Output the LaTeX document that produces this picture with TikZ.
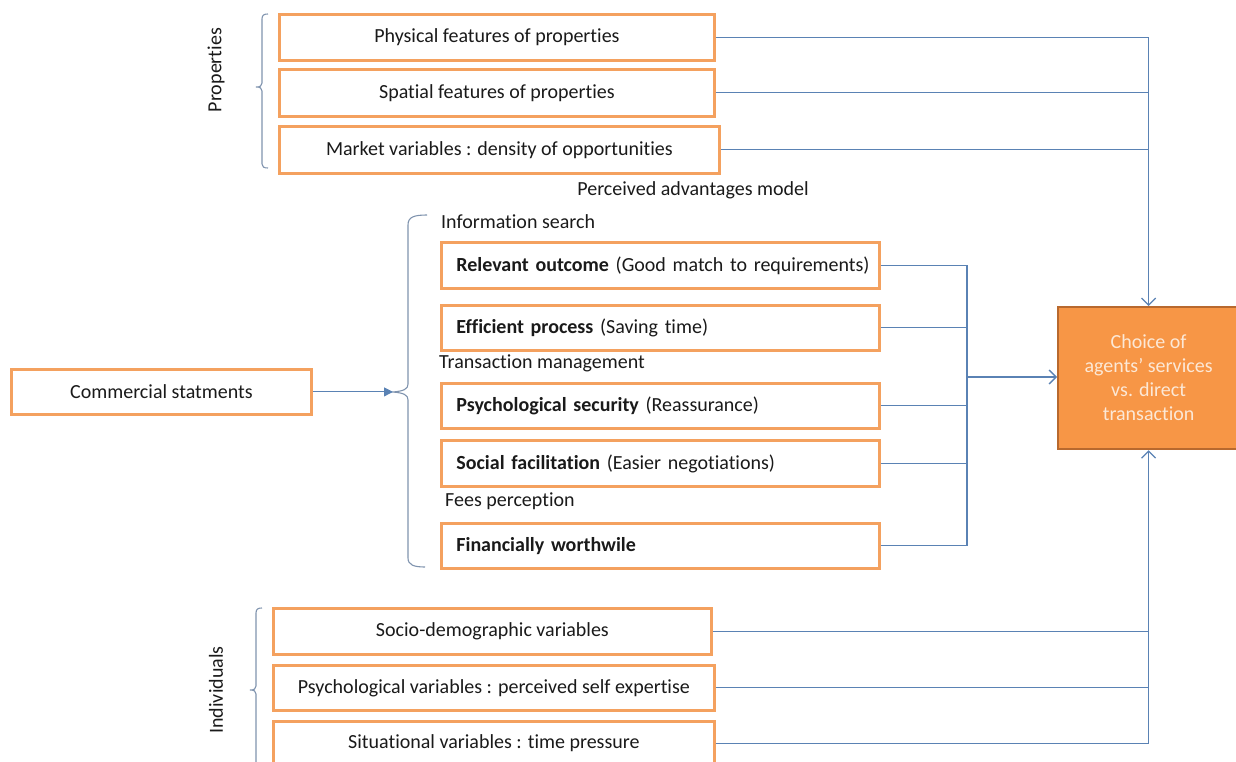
\documentclass[tikz,border=0pt]{standalone}
\usepackage{fontspec}
\setmainfont{Carlito}[Ligatures=NoCommon]
\usetikzlibrary{arrows.meta}
\definecolor{boxor}{HTML}{F4A15F}
\definecolor{choicefill}{HTML}{F79646}
\definecolor{choiceedge}{HTML}{B8692E}
\definecolor{choicetext}{HTML}{FCE8D6}
\definecolor{lineblue}{HTML}{5A82B4}
\definecolor{bracegray}{HTML}{7F93AE}
\definecolor{txt}{HTML}{1A1A1A}
\begin{document}
\begin{tikzpicture}[x=1pt,y=-1pt,
  every node/.style={font=\fontsize{20}{24}\selectfont, text=txt},
  box/.style={draw=boxor, line width=2.8pt, fill=white, inner sep=0pt, anchor=north west, align=center},
  lbox/.style={box, align=left, inner xsep=15pt, text width=408pt},
  choicebox/.style={draw=choiceedge, line width=2.2pt, fill=choicefill, anchor=north west, align=center, text=choicetext, font=\fontsize{20}{24}\selectfont},
  conn/.style={draw=lineblue, line width=1.1pt},
  arr/.style={conn, -{Straight Barb[length=7pt,width=14pt,line width=1.3pt]}},
  tarr/.style={conn, -{Triangle[length=9pt,width=9pt]}},
  bracket/.style={draw=bracegray, line width=1.1pt},
  plain/.style={inner sep=0pt}
]
\useasboundingbox (0,0) rectangle (1236,762);

% Properties group
\node[box, minimum width=435pt, minimum height=46pt] (p1) at (278,13) {Physical features of properties};
\node[box, minimum width=435pt, minimum height=47pt] (p2) at (278,68) {Spatial features of properties};
\node[box, minimum width=440pt, minimum height=47pt] (p3) at (278,125) {Market variables : density of opportunities};
\node[plain, rotate=90] (lprop) at (216,70) {Properties};
\draw[bracket] (268,14) .. controls (264,14) and (262,15) .. (262,19) -- (262,83)
  .. controls (262,86) and (260,87) .. (256,87) .. controls (260,87) and (262,88) .. (262,91)
  -- (262,164) .. controls (262,167) and (264,168) .. (268,168);

\node[plain] (pam) at (693,190) {Perceived advantages model};

% Perceived advantages group
\node[plain, anchor=west] (lis) at (441,222) {Information search};
\node[lbox, minimum width=438pt, minimum height=46pt] (r1) at (440,241) {\mbox{\textbf{Relevant outcome} (Good match to requirements)}};
\node[lbox, minimum width=438pt, minimum height=45pt] (r2) at (440,304) {\mbox{\textbf{Efficient process} (Saving time)}};
\node[plain, anchor=west] (ltm) at (439,363) {Transaction management};
\node[lbox, minimum width=438pt, minimum height=45pt] (r3) at (440,382) {\mbox{\textbf{Psychological security} (Reassurance)}};
\node[lbox, minimum width=438pt, minimum height=46pt] (r4) at (440,439) {\mbox{\textbf{Social facilitation} (Easier negotiations)}};
\node[plain, anchor=west] (lfp) at (445,501) {Fees perception};
\node[lbox, minimum width=438pt, minimum height=45pt] (r5) at (440,522) {\mbox{\textbf{Financially worthwile}}};

\draw[bracket] (427,215) .. controls (414,215) and (408,217) .. (408,225) -- (408,384)
  .. controls (408,389) and (404,391) .. (393,392) .. controls (404,393) and (408,395) .. (408,400)
  -- (408,558) .. controls (408,565) and (414,567) .. (425,567);
\coordinate (btip) at (393,392);

\node[box, minimum width=300pt, minimum height=45pt] (cs) at (10,368) {Commercial statments};
\draw[tarr] (cs.east) -- (cs.east -| btip);

% Choice box
\node[choicebox, minimum width=181pt, minimum height=142pt, inner sep=0pt] (choice) at (1057,306) {Choice of\\agents’ services\\vs. direct\\transaction};

% Individuals group
\node[box, minimum width=438pt, minimum height=46pt] (i1) at (272,607) {Socio-demographic variables};
\node[box, minimum width=441pt, minimum height=45pt] (i2) at (272,664) {Psychological variables : perceived self expertise};
\node[box, minimum width=441pt, minimum height=44pt] (i3) at (272,720) {Situational variables : time pressure};
\node[plain, rotate=90] (lind) at (216,690) {Individuals};
\draw[bracket] (262,608) .. controls (258,608) and (256,609) .. (256,613) -- (256,686)
  .. controls (256,689) and (254,690) .. (250,690) .. controls (254,690) and (256,691) .. (256,694)
  -- (256,780);

% Connectors from properties
\draw[arr] (p1.east) -| (choice.north);
\draw[conn] (p2.east) -- (p2.east -| choice.north);
\draw[conn] (p3.east) -- (p3.east -| choice.north);

% Connectors from perceived advantages
\coordinate (bus) at (967,377);
\draw[conn] (r1.east) -- (r1.east -| bus);
\draw[conn] (r2.east) -- (r2.east -| bus);
\draw[conn] (r3.east) -- (r3.east -| bus);
\draw[conn] (r4.east) -- (r4.east -| bus);
\draw[conn] (r5.east) -- (r5.east -| bus);
\draw[conn] (r1.east -| bus) -- (r5.east -| bus);
\draw[arr] (bus) -- (bus -| choice.west);

% Connectors from individuals
\draw[arr] (i3.east) -| (choice.south);
\draw[conn] (i1.east) -- (i1.east -| choice.south);
\draw[conn] (i2.east) -- (i2.east -| choice.south);
\end{tikzpicture}
\end{document}
